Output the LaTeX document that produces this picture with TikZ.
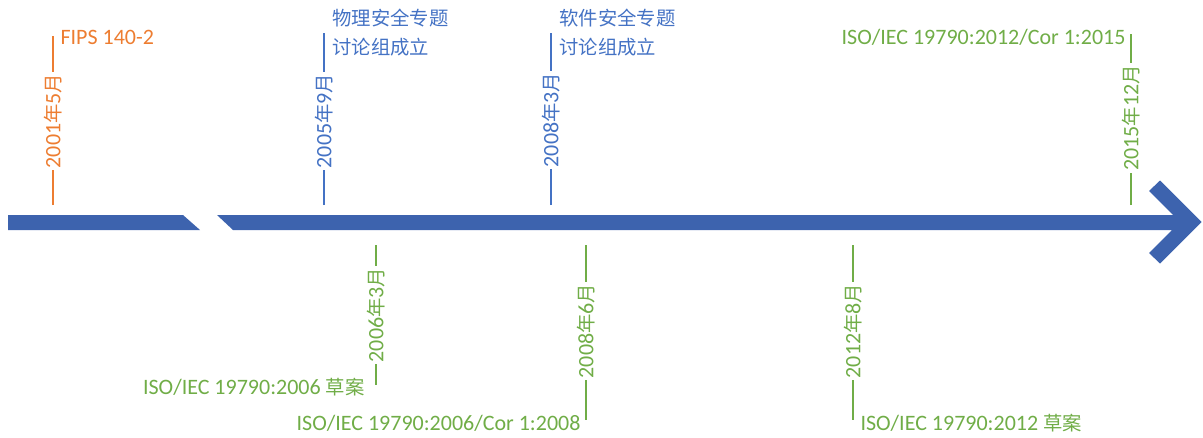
\documentclass[tikz,border=0pt]{standalone}
\usepackage{fontspec}
\setmainfont{Carlito}
\newfontfamily\cjk{Noto Sans CJK SC}[Scale=0.88]
\newcommand{\zh}[1]{{\cjk #1}}
\definecolor{barblue}{HTML}{3D63AE}
\definecolor{evorange}{HTML}{ED7D31}
\definecolor{evblue}{HTML}{4472C4}
\definecolor{evgreen}{HTML}{70AD47}
\begin{document}
\begin{tikzpicture}[x=1pt,y=-1pt,
  every node/.style={font=\fontsize{22}{26}\selectfont},
  datebox/.style={rotate=90, inner sep=2pt},
  tick/.style={line width=1.5pt},
  twoline/.style={align=left, font=\fontsize{22}{29}\selectfont}
]
\useasboundingbox (0,0) rectangle (1203,437);
% timeline bar
\fill[barblue] (8,215) -- (183,215) -- (200,230) -- (8,230) -- cycle;
\fill[barblue] (217,215) -- (1173,215) -- (1149,191) -- (1160,180.5) -- (1201.5,222)
  -- (1160,263.5) -- (1149,253) -- (1172,230) -- (233,230) -- cycle;

% 2001
\coordinate (b1) at (53,205);
\coordinate (t1) at (53,36);
\node[datebox, text=evorange] (d1) at (53,121) {2001\zh{年}5\zh{月}};
\draw[tick, evorange] (b1) -- (d1) -- (t1);
\node[anchor=west, text=evorange] (l1) at ([shift={(4,1)}]t1) {FIPS 140-2};

% 2005
\coordinate (b2) at (324,205);
\coordinate (t2) at (324,33);
\node[datebox, text=evblue] (d2) at (324,121) {2005\zh{年}9\zh{月}};
\draw[tick, evblue] (b2) -- (d2) -- (t2);
\node[anchor=west, text=evblue, twoline] (l2) at ([shift={(5,0)}]t2) {\zh{物理安全专题}\\\zh{讨论组成立}};

% 2008-3
\coordinate (b3) at (551,205);
\coordinate (t3) at (551,33);
\node[datebox, text=evblue] (d3) at (551,120) {2008\zh{年}3\zh{月}};
\draw[tick, evblue] (b3) -- (d3) -- (t3);
\node[anchor=west, text=evblue, twoline] (l3) at ([shift={(5,0)}]t3) {\zh{软件安全专题}\\\zh{讨论组成立}};

% 2015
\coordinate (b4) at (1131,205);
\coordinate (t4) at (1131,34);
\node[datebox, text=evgreen] (d4) at (1131,118) {2015\zh{年}12\zh{月}};
\draw[tick, evgreen] (b4) -- (d4) -- (t4);
\node[anchor=east, text=evgreen] (l4) at ([shift={(-2,3)}]t4) {ISO/IEC 19790:2012/Cor 1:2015};

% 2006-3
\coordinate (b5) at (376,245);
\coordinate (t5) at (376,385);
\node[datebox, text=evgreen] (d5) at (376,315) {2006\zh{年}3\zh{月}};
\draw[tick, evgreen] (b5) -- (d5) -- (t5);
\node[anchor=east, text=evgreen] (l5) at ([shift={(-8,2)}]t5) {ISO/IEC 19790:2006 \zh{草案}};

% 2008-6
\coordinate (b6) at (586,245);
\coordinate (t6) at (586,420);
\node[datebox, text=evgreen] (d6) at (586,331) {2008\zh{年}6\zh{月}};
\draw[tick, evgreen] (b6) -- (d6) -- (t6);
\node[anchor=east, text=evgreen] (l6) at ([shift={(-2,3)}]t6) {ISO/IEC 19790:2006/Cor 1:2008};

% 2012-8
\coordinate (b7) at (853,245);
\coordinate (t7) at (853,420);
\node[datebox, text=evgreen] (d7) at (853,331) {2012\zh{年}8\zh{月}};
\draw[tick, evgreen] (b7) -- (d7) -- (t7);
\node[anchor=west, text=evgreen] (l7) at ([shift={(4,3)}]t7) {ISO/IEC 19790:2012 \zh{草案}};
\end{tikzpicture}
\end{document}
